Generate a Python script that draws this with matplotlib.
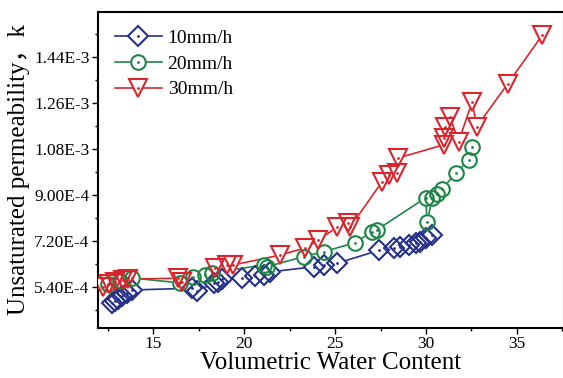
import matplotlib
matplotlib.use("Agg")
import matplotlib.pyplot as plt
from matplotlib.legend_handler import HandlerTuple
from matplotlib.ticker import MultipleLocator

# ---- data ----
x_10 = [12.71, 12.89, 13.05, 13.27, 13.53, 13.81, 17.12, 17.39, 18.31, 18.58, 18.77,
        19.87, 20.61, 21.06, 21.43, 23.82, 24.37, 25.11, 27.40, 28.23, 28.60, 29.06,
        29.43, 29.70, 29.98, 30.35]
k_10 = [4.76e-4, 4.84e-4, 4.92e-4, 5.03e-4, 5.14e-4, 5.27e-4, 5.34e-4, 5.23e-4, 5.53e-4,
        5.60e-4, 5.70e-4, 5.73e-4, 5.82e-4, 5.86e-4, 5.98e-4, 6.18e-4, 6.25e-4, 6.32e-4,
        6.82e-4, 6.91e-4, 6.97e-4, 7.04e-4, 7.10e-4, 7.16e-4, 7.30e-4, 7.43e-4]

x_20 = [12.51, 13.16, 13.81, 16.47, 17.20, 17.85, 18.22, 21.06, 21.25, 23.27, 24.37,
        26.12, 27.04, 27.28, 29.98, 30.07, 30.35, 30.62, 30.90, 31.63, 32.36, 32.55]
k_20 = [5.50e-4, 5.62e-4, 5.74e-4, 5.55e-4, 5.79e-4, 5.86e-4, 5.94e-4, 6.25e-4, 6.18e-4,
        6.58e-4, 6.77e-4, 7.13e-4, 7.56e-4, 7.62e-4, 8.88e-4, 7.95e-4, 8.87e-4, 9.04e-4,
        9.23e-4, 9.85e-4, 1.037e-3, 1.089e-3]

x_30 = [12.24, 12.56, 12.89, 13.35, 13.60, 16.38, 16.57, 18.40, 19.05, 19.39, 21.98,
        23.36, 24.08, 25.11, 25.73, 25.84, 27.59, 27.94, 28.42, 28.49, 30.97, 30.97,
        31.03, 31.32, 31.80, 32.55, 32.79, 34.50, 36.41]
k_30 = [5.40e-4, 5.51e-4, 5.60e-4, 5.66e-4, 5.70e-4, 5.73e-4, 5.60e-4, 6.13e-4, 6.25e-4,
        6.25e-4, 6.64e-4, 6.92e-4, 7.22e-4, 7.74e-4, 7.90e-4, 7.74e-4, 9.52e-4, 9.78e-4,
        9.86e-4, 1.045e-3, 1.096e-3, 1.123e-3, 1.166e-3, 1.206e-3, 1.109e-3, 1.266e-3,
        1.167e-3, 1.335e-3, 1.527e-3]

labels = ["10mm/h", "20mm/h", "30mm/h"]
y_ticks = [5.4e-4, 7.2e-4, 9.0e-4, 1.08e-3, 1.26e-3, 1.44e-3]
y_ticklabels = ["5.40E-4", "7.20E-4", "9.00E-4", "1.08E-3", "1.26E-3", "1.44E-3"]
x_ticks = [15, 20, 25, 30, 35]

colors = ["#26308a", "#1d8545", "#d8262c"]
markers = ["D", "o", "v"]
msizes = [10.5, 10.5, 12.5]

serif = ["Liberation Serif", "DejaVu Serif"]
plt.rcParams["font.family"] = serif

fig = plt.figure(figsize=(5.63, 3.78), dpi=100)
ax = fig.add_axes([98 / 563, 50 / 378, 466 / 563, 316 / 378])

series = [(x_10, k_10), (x_20, k_20), (x_30, k_30)]
handles = []
for i, ((xs, ks), c, m, ms) in enumerate(zip(series, colors, markers, msizes)):
    ax.plot(xs, ks, color=c, lw=1.2, zorder=2)
for i, ((xs, ks), c, m, ms) in enumerate(zip(series, colors, markers, msizes)):
    ax.plot(xs, ks, ls="none", marker=m, ms=ms, mfc="white", mec="white", mew=1.3, zorder=3)
for i, ((xs, ks), c, m, ms) in enumerate(zip(series, colors, markers, msizes)):
    ax.plot(xs, ks, ls="none", marker=m, ms=ms, mfc="none", mec=c, mew=1.5, zorder=4 + i)
    ax.plot(xs, ks, ls="none", marker=".", ms=2, color=c, zorder=4 + i)
    h1 = plt.Line2D([], [], color=c, lw=1.2, marker=m, ms=ms, mfc="white", mec=c, mew=1.5)
    h2 = plt.Line2D([], [], ls="none", marker=".", ms=2, color=c)
    handles.append((h1, h2))

ax.set_xlim(11.95, 37.6)
ax.set_ylim(3.78e-4, 1.617e-3)
ax.set_xticks(x_ticks)
ax.set_xticklabels([str(t) for t in x_ticks])
ax.xaxis.set_minor_locator(MultipleLocator(2.5))
ax.set_yticks(y_ticks)
ax.set_yticklabels(y_ticklabels)
ax.yaxis.set_minor_locator(MultipleLocator(0.9e-4))

ax.tick_params(axis="both", which="major", direction="out", length=4, width=1.0,
               labelsize=12.5, pad=2)
ax.tick_params(axis="both", which="minor", direction="out", length=2.5, width=1.0)
for s in ax.spines.values():
    s.set_linewidth(1.5)

ax.set_xlabel("Volumetric Water Content", fontsize=18, labelpad=0)
ax.set_ylabel("Unsaturated permeability，k", fontsize=18, labelpad=3,
              family=["Liberation Serif", "Noto Sans CJK SC"])

leg = ax.legend(handles, labels, handler_map={tuple: HandlerTuple(ndivide=1)},
                loc="upper left", bbox_to_anchor=(0.02, 0.97), frameon=False,
                fontsize=14, handlelength=2.4, handletextpad=0.3, labelspacing=0.42,
                borderaxespad=0)

fig.savefig("out.png", dpi=100)
